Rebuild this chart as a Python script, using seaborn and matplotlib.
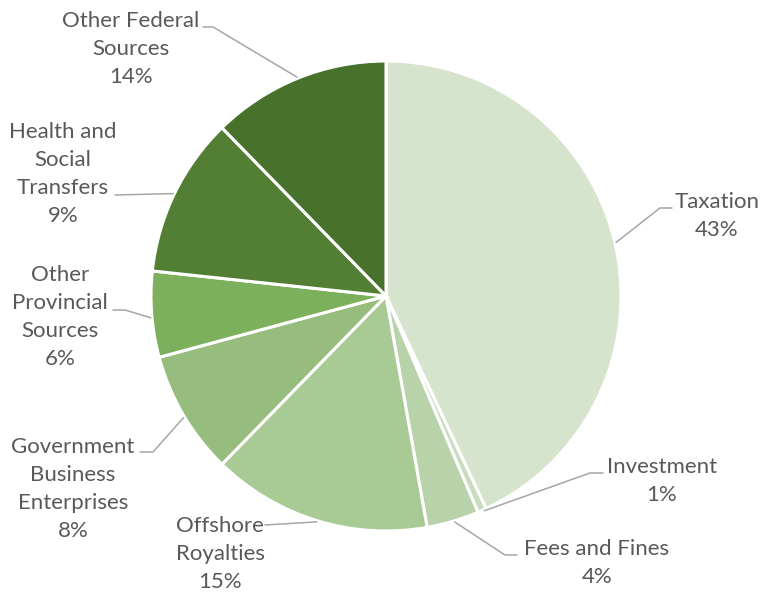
import numpy as np
import matplotlib
matplotlib.use("Agg")
import matplotlib.pyplot as plt
import seaborn as sns

#%% data
sources = ['Taxation', 'Investment', 'Fees and Fines', 'Offshore\nRoyalties',
           'Government\nBusiness\nEnterprises', 'Other\nProvincial\nSources',
           'Health and\nSocial\nTransfers', 'Other Federal\nSources']
# slice sizes as drawn in the picture (%)
shares = [43.0, 0.6, 3.6, 15.1, 8.5, 5.9, 11.0, 12.3]
# percentages printed on the labels
label_pct = [43, 1, 4, 15, 8, 6, 9, 14]
colors = ['#D6E3CD', '#C9DCBD', '#B8D3A9', '#A8CA94',
          '#96BC7E', '#7DB05C', '#527F33', '#48712C']

#%% label layout (pixel positions of the reference, converted below)
W, H = 763, 594
cx, cy, R = 386, 296, 235

def px(x, y):
    return (x - cx) / R, (cy - y) / R

# text centre, elbow point (None = straight leader), stub start, angle on the pie
layout = [
    ((717, 216), (660, 208), (672, 208), 13.1),
    ((662, 481), (590, 473), (603, 473), -65.4),
    ((597, 563), (505, 555), (517, 555), -73.1),
    ((220, 554), None, (265, 525), -107.0),
    ((73, 489), (153, 452), (140, 452), 211.0),
    ((60, 317), (125, 310), (113, 310), 185.3),
    ((63, 174), None, (115, 195), 154.3),
    ((131, 49), (213, 27), (203, 27), 112.1),
]

#%% plot
sns.set_theme(style='white')
plt.rcParams['font.family'] = ['Lato', 'DejaVu Sans']

fig = plt.figure(figsize=(W / 100, H / 100), dpi=100)
ax = fig.add_axes([0, 0, 1, 1])

ax.pie(shares, colors=sns.color_palette(colors), startangle=90, counterclock=False,
       radius=1, wedgeprops=dict(edgecolor='white', linewidth=2.2))

text_color = '#595959'
line_color = '#A6A6A6'
for name, pct, (tpos, elbow, stub, ang) in zip(sources, label_pct, layout):
    tx, ty = px(*tpos)
    ax.text(tx, ty, f'{name}\n{pct}%', ha='center', va='center', fontsize=16,
            color=text_color, linespacing=1.52)
    end = (np.cos(np.radians(ang)) * 1.005, np.sin(np.radians(ang)) * 1.005)
    sx, sy = px(*stub)
    if elbow is None:
        xs, ys = [sx, end[0]], [sy, end[1]]
    else:
        ex, ey = px(*elbow)
        xs, ys = [sx, ex, end[0]], [sy, ey, end[1]]
    ax.plot(xs, ys, color=line_color, lw=1.1)

ax.set_aspect('equal')
ax.set_xlim(-cx / R, (W - cx) / R)
ax.set_ylim((cy - H) / R, cy / R)
ax.axis('off')

fig.savefig('out.png', dpi=100)
